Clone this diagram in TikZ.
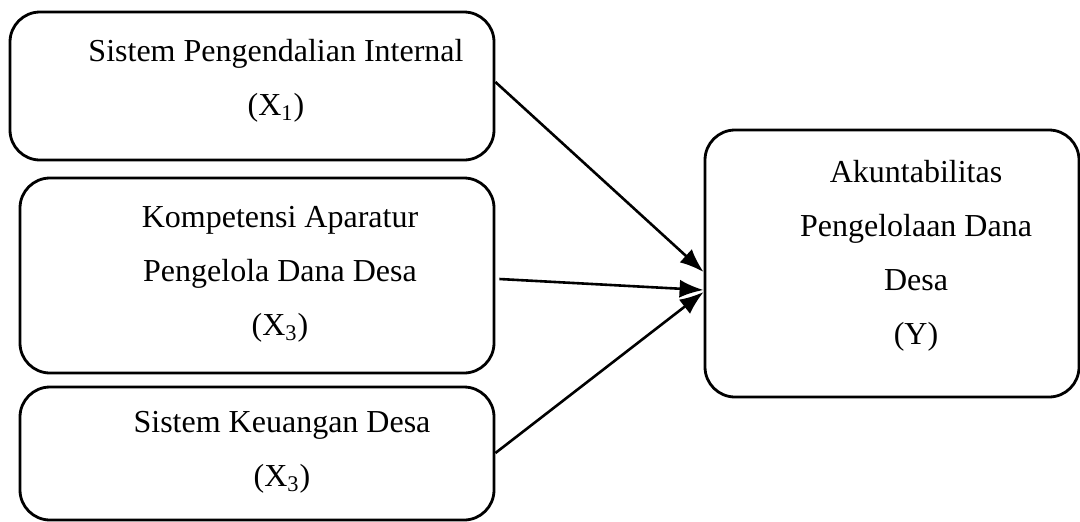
\documentclass[tikz,border=0pt]{standalone}
\usepackage{fontspec}
\setmainfont{Liberation Serif}
\usetikzlibrary{arrows.meta}

\tikzset{
  varbox/.style={draw, line width=1.4pt, rounded corners=15pt, inner sep=0pt},
  vartext/.style={align=center, font=\fontsize{16}{27}\selectfont},
  link/.style={line width=1.3pt, -{Latex[length=12pt,width=9pt]}}
}

\begin{document}
\begin{tikzpicture}[x=0.5pt, y=-0.5pt]
    \useasboundingbox (0, 0) rectangle (1080, 521);
    % variable boxes
    \node[varbox, minimum width=242pt, minimum height=74pt]    (x1) at (252, 86)    {};
    \node[varbox, minimum width=237pt, minimum height=97.5pt]  (x2) at (257, 275.5) {};
    \node[varbox, minimum width=237pt, minimum height=66.5pt]  (x3) at (257, 453.5) {};
    \node[varbox, minimum width=187pt, minimum height=133.5pt] (y)  at (892, 263.5) {};
    % labels
    \node[vartext] (t1) at (276, 81)  {Sistem Pengendalian Internal\\(X\textsubscript{1})};
    \node[vartext] (t2) at (280, 274) {Kompetensi Aparatur\\Pengelola Dana Desa\\(X\textsubscript{3})};
    \node[vartext] (t3) at (282, 452) {Sistem Keuangan Desa\\(X\textsubscript{3})};
    \node[vartext] (ty) at (916, 256) {Akuntabilitas\\Pengelolaan Dana\\Desa\\(Y)};
    % arrows
    \draw[link] ([yshift=2pt]x1.east) -- ([yshift=-4.25pt]y.west);
    \draw[link] ([xshift=2pt, yshift=-1.75pt]x2.east) -- ([yshift=-13.25pt]y.west);
    \draw[link] ([yshift=0.25pt]x3.east) -- ([yshift=-14.25pt]y.west);
\end{tikzpicture}
\end{document}
